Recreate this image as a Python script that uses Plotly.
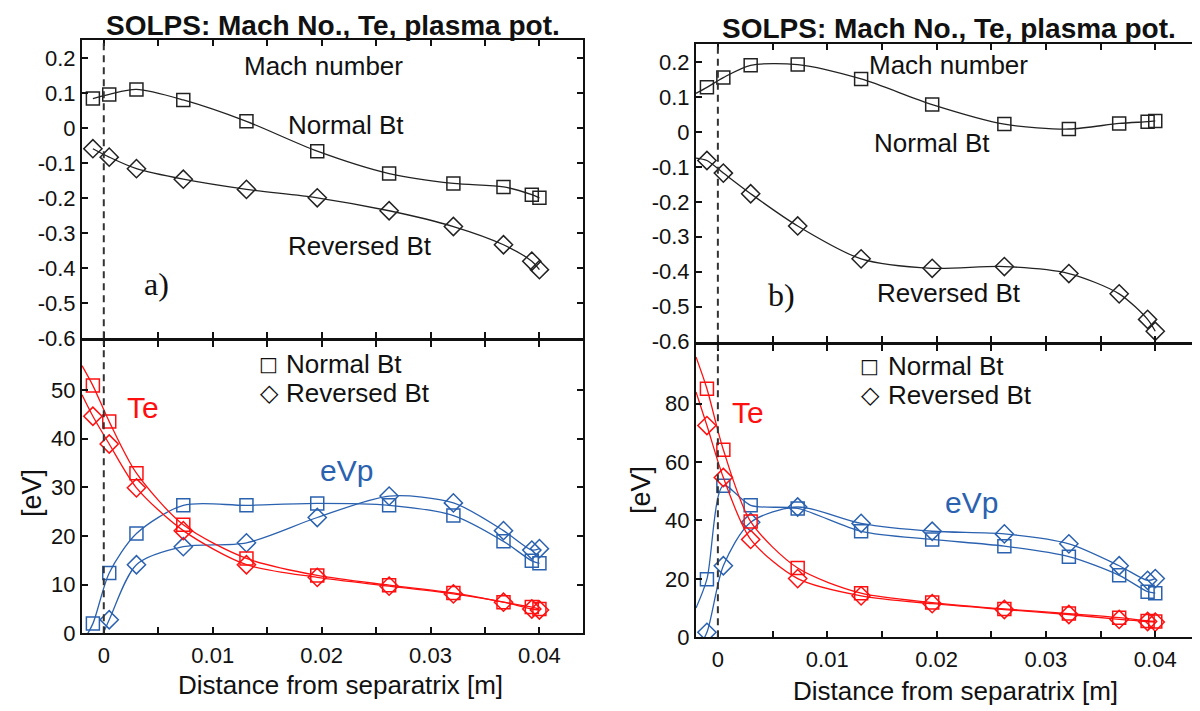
import plotly.graph_objects as go

# ---------------- data ----------------
x_pos = [-0.001, 0.0005, 0.003, 0.0073, 0.0131, 0.0196, 0.0262, 0.0321, 0.0367, 0.0393, 0.040]
x_edge = -0.002

# panel a) Mach number
mach_a_normal = [0.084, 0.096, 0.110, 0.080, 0.019, -0.066, -0.130, -0.158, -0.168, -0.190, -0.199]
mach_a_reversed = [-0.059, -0.083, -0.116, -0.146, -0.175, -0.199, -0.236, -0.281, -0.333, -0.380, -0.404]
# panel a) Te and eVp [eV]
te_a_normal = [50.9, 43.5, 32.9, 22.3, 15.4, 11.9, 9.9, 8.3, 6.4, 5.4, 5.0]
te_a_reversed = [44.6, 38.9, 29.9, 21.1, 14.1, 11.5, 9.7, 8.1, 6.4, 5.0, 4.8]
evp_a_normal = [2.0, 12.4, 20.5, 26.3, 26.3, 26.7, 26.3, 24.2, 18.9, 14.9, 14.4]
evp_a_reversed = [-5.0, 2.8, 14.1, 17.8, 18.6, 23.8, 28.2, 26.8, 21.1, 17.1, 17.4]

# panel b) Mach number
mach_b_normal = [0.127, 0.155, 0.190, 0.192, 0.151, 0.078, 0.022, 0.008, 0.024, 0.029, 0.031]
mach_b_reversed = [-0.082, -0.118, -0.177, -0.269, -0.363, -0.390, -0.385, -0.405, -0.463, -0.536, -0.570]
# panel b) Te and eVp [eV]
te_b_normal = [85.1, 64.2, 39.6, 23.7, 15.1, 11.9, 9.7, 8.1, 6.7, 5.6, 5.4]
te_b_reversed = [72.5, 54.7, 33.5, 20.1, 14.2, 11.5, 9.5, 7.8, 6.1, 5.4, 5.2]
evp_b_normal = [19.9, 51.9, 45.2, 44.1, 36.3, 33.5, 31.2, 27.6, 21.2, 15.6, 15.1]
evp_b_reversed = [1.7, 24.5, 39.4, 44.6, 39.0, 36.3, 35.4, 32.0, 24.5, 19.5, 20.1]

# values of each curve at the left plot edge (line continues to the frame)
lead_a = {"mach_n": None, "mach_r": None, "te_n": 55.0, "te_r": 49.0, "evp_n": -2.0, "evp_r": -10.0}
lead_b = {"mach_n": 0.11, "mach_r": -0.075, "te_n": 96.0, "te_r": 84.0, "evp_n": 10.0, "evp_r": -5.0}

mach_ticks = [0.2, 0.1, 0, -0.1, -0.2, -0.3, -0.4, -0.5, -0.6]
mach_ticktext = ["0.2", "0.1", "0", "-0.1", "-0.2", "-0.3", "-0.4", "-0.5", "-0.6"]
x_ticks = [0, 0.005, 0.01, 0.015, 0.02, 0.025, 0.03, 0.035, 0.04]
x_ticktext = ["0", "", "0.01", "", "0.02", "", "0.03", "", "0.04"]

# ---------------- style ----------------
BLACK = "#222222"
RED = "#ff1010"
BLUE = "#2b62b0"
FONT = "Liberation Sans, Arial, sans-serif"
SERIF = "Liberation Serif, Times New Roman, serif"
W, H = 1200, 711

fig = go.Figure()


def px_x(a, b):
    return [a / W, b / W]


def px_y(top, bottom):
    return [1 - bottom / H, 1 - top / H]


panels = {
    "a_top": ("x", "y", px_x(74, 575), px_y(33, 336.5)),
    "a_bot": ("x2", "y2", px_x(74, 575), px_y(339.5, 637)),
    "b_top": ("x3", "y3", px_x(688, 1191), px_y(37, 340)),
    "b_bot": ("x4", "y4", px_x(688, 1191), px_y(343.5, 641)),
}


def add_series(xa, ya, ys, lead, color, symbol, size, lw=1.3):
    if lead is not None:
        lx = [x_edge] + x_pos
        ly = [lead] + ys
    else:
        lx, ly = x_pos, ys
    fig.add_trace(go.Scatter(x=lx, y=ly, mode="lines", xaxis=xa, yaxis=ya,
                             line=dict(color=color, width=lw, shape="spline", smoothing=0.8),
                             showlegend=False, hoverinfo="skip"))
    fig.add_trace(go.Scatter(x=x_pos, y=ys, mode="markers", xaxis=xa, yaxis=ya,
                             marker=dict(symbol=symbol, size=size, color=color,
                                         line=dict(color=color, width=1.5)),
                             showlegend=False))


SQ, DI = "square-open", "diamond-open"
SQS, DIS = 13, 14

add_series("x", "y", mach_a_normal, lead_a["mach_n"], BLACK, SQ, SQS)
add_series("x", "y", mach_a_reversed, lead_a["mach_r"], BLACK, DI, DIS)
add_series("x2", "y2", evp_a_normal, lead_a["evp_n"], BLUE, SQ, SQS)
add_series("x2", "y2", evp_a_reversed, lead_a["evp_r"], BLUE, DI, DIS)
add_series("x2", "y2", te_a_normal, lead_a["te_n"], RED, SQ, SQS)
add_series("x2", "y2", te_a_reversed, lead_a["te_r"], RED, DI, DIS)

add_series("x3", "y3", mach_b_normal, lead_b["mach_n"], BLACK, SQ, SQS)
add_series("x3", "y3", mach_b_reversed, lead_b["mach_r"], BLACK, DI, DIS)
add_series("x4", "y4", evp_b_normal, lead_b["evp_n"], BLUE, SQ, SQS)
add_series("x4", "y4", evp_b_reversed, lead_b["evp_r"], BLUE, DI, DIS)
add_series("x4", "y4", te_b_normal, lead_b["te_n"], RED, SQ, SQS)
add_series("x4", "y4", te_b_reversed, lead_b["te_r"], RED, DI, DIS)

axis_common = dict(showline=True, linecolor="#111111", linewidth=2, mirror="ticks",
                   ticks="inside", ticklen=6, tickwidth=1.5, tickcolor="#111111",
                   showgrid=False, zeroline=False,
                   tickfont=dict(family=FONT, size=22, color="#111111"))

layout_axes = {}
XR = [-0.002, 0.044]
yranges = {"a_top": [-0.6, 0.25], "a_bot": [0, 60], "b_top": [-0.6, 0.25], "b_bot": [0, 100]}

for name, (xa, ya, xd, yd) in panels.items():
    col = name[0]
    xkey = "xaxis" + xa[1:]
    ykey = "yaxis" + ya[1:]
    xa_cfg = dict(axis_common, domain=xd, range=XR, anchor=ya,
                  tickvals=x_ticks, ticktext=x_ticktext, ticklabelstandoff=1)
    if name.endswith("top"):
        xa_cfg["showticklabels"] = False
        ya_cfg = dict(axis_common, domain=yd, range=yranges[name], anchor=xa,
                      tickvals=mach_ticks, ticktext=mach_ticktext)
    else:
        if col == "a":
            yt = [0, 10, 20, 30, 40, 50]
        else:
            yt = [0, 20, 40, 60, 80]
        ya_cfg = dict(axis_common, domain=yd, range=yranges[name], anchor=xa,
                      tickvals=yt, ticktext=[str(v) for v in yt])
    layout_axes[xkey] = xa_cfg
    layout_axes[ykey] = ya_cfg

fig.update_layout(**layout_axes)

# dashed separatrix lines
for xa, ya in [("x", "y"), ("x2", "y2"), ("x3", "y3"), ("x4", "y4")]:
    fig.add_shape(type="line", xref=xa, yref=ya + " domain", x0=0, x1=0, y0=0, y1=1,
                  line=dict(color="#333333", width=2, dash="7px,5px"))


def ann(text, xp, yp, size, color="#111111", family=FONT, bold=False, angle=0):
    if bold:
        text = "<b>" + text + "</b>"
    fig.add_annotation(text=text, x=xp / W, y=1 - yp / H, xref="paper", yref="paper",
                       showarrow=False, xanchor="center", yanchor="middle", textangle=angle,
                       font=dict(family=family, size=size, color=color))


TITLE = "SOLPS: Mach No., Te, plasma pot."
ann(TITLE, 325, 18, 28, bold=True)
ann(TITLE, 941, 21, 28, bold=True)

# axis titles
ann("Distance from separatrix [m]", 332, 690, 26)
ann("Distance from separatrix [m]", 947, 696, 26)
ann("[eV]", 24, 494, 27, angle=-90)
ann("[eV]", 633, 491, 27, angle=-90)

# panel a annotations
ann("Mach number", 315, 59, 26)
ann("Normal Bt", 338, 119, 26)
ann("Reversed Bt", 352, 242, 26)
ann("a)", 148, 281, 32, family=SERIF)
ann("Te", 135, 407, 30, color=RED)
ann("eVp", 338, 471, 30, color=BLUE)
ann("\u25a1", 260, 363, 20, family="DejaVu Sans")
ann("Normal Bt", 336, 363, 26)
ann("\u25c7", 261, 392, 24, family="DejaVu Sans")
ann("Reversed Bt", 350, 392, 26)

# panel b annotations
ann("Mach number", 940, 58, 26)
ann("Normal Bt", 924, 138, 26)
ann("Reversed Bt", 941, 290, 26)
ann("b)", 773, 292, 32, family=SERIF)
ann("Te", 740, 412, 30, color=RED)
ann("eVp", 963, 504, 30, color=BLUE)
ann("\u25a1", 861, 365, 20, family="DejaVu Sans")
ann("Normal Bt", 938, 365, 26)
ann("\u25c7", 862, 394, 24, family="DejaVu Sans")
ann("Reversed Bt", 952, 394, 26)

fig.update_layout(width=W, height=H, margin=dict(l=0, r=0, t=0, b=0),
                  paper_bgcolor="white", plot_bgcolor="white", showlegend=False)

fig.write_html("out.html")
